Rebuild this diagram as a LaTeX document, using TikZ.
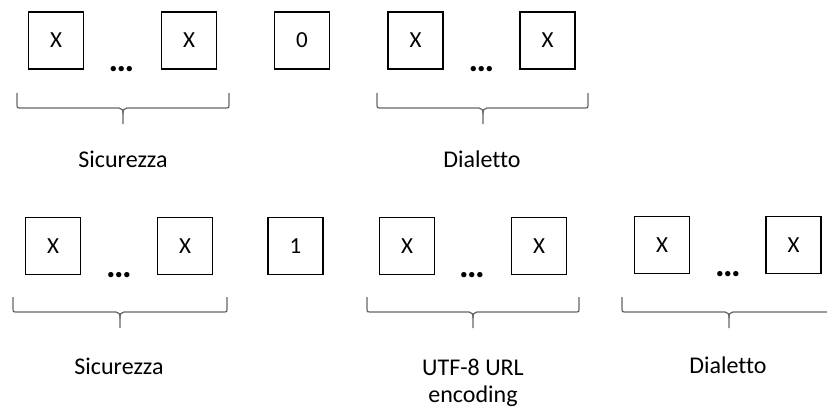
\documentclass[tikz,border=0pt]{standalone}
\usepackage{fontspec}
\setmainfont[Ligatures=CommonOff]{Carlito}
\newcommand\drawcurly[4]{% x1, x2, xc, ytop
  \pgfmathsetmacro\ym{#4+15}\pgfmathsetmacro\yt{#4+31}%
  \draw[bracestyle] (#1,#4) -- (#1,\ym-3) .. controls (#1,\ym) .. (#1+3,\ym) -- (#3-4,\ym)
     .. controls (#3-1,\ym) and (#3,\ym+2) .. (#3,\ym+6) -- (#3,\yt);
  \draw[bracestyle] (#2,#4) -- (#2,\ym-3) .. controls (#2,\ym) .. (#2-3,\ym) -- (#3+4,\ym)
     .. controls (#3+1,\ym) and (#3,\ym+2) .. (#3,\ym+6);
}
\begin{document}
\begin{tikzpicture}[x=1pt,y=-1pt,
  cell/.style={draw=black,line width=1.6pt,minimum width=55pt,minimum height=57pt,inner sep=0pt,
    font=\fontsize{23}{27}\selectfont},
  dots/.style={inner sep=0pt,anchor=base,font=\bfseries\fontsize{36}{40}\selectfont},
  lab/.style={inner sep=0pt,anchor=base,align=center,font=\fontsize{24}{27}\selectfont},
  bracestyle/.style={draw=black!60,line width=1.2pt}]
\useasboundingbox (0,0) rectangle (827,408);
\clip (0,0) rectangle (827,408);
% top row
\node[cell] (t1) at (56,40.5) {X};
\node[cell] (t2) at (189,40.5) {X};
\node[cell] (t0) at (302,40.5) {0};
\node[cell] (t3) at (415.5,40.5) {X};
\node[cell] (t4) at (547.5,40.5) {X};
\node[dots] (td1) at (121.5,71) {…};
\node[dots] (td2) at (481.5,71) {…};
\drawcurly{17}{229}{123}{93}
\drawcurly{377}{588}{483}{93}
\node[lab] (l1) at (123,167) {Sicurezza};
\node[lab] (l2) at (482,167) {Dialetto};
% bottom row
\node[cell] (b1) at (53,246) {X};
\node[cell] (b2) at (185,246) {X};
\node[cell] (b0) at (295.5,246) {1};
\node[cell] (b3) at (407,246) {X};
\node[cell] (b4) at (539,246) {X};
\node[cell] (b5) at (662,245) {X};
\node[cell] (b6) at (793.5,245) {X};
\node[dots] (bd1) at (119,277) {…};
\node[dots] (bd2) at (472,277) {…};
\node[dots] (bd3) at (728,276) {…};
\drawcurly{13}{227}{120}{297}
\drawcurly{367}{579}{473}{297}
\drawcurly{622}{860}{729}{297}
\node[lab] (l3) at (119,374) {Sicurezza};
\node[lab] (l4) at (473,402) {UTF-8 URL\\encoding};
\node[lab] (l5) at (728,373) {Dialetto};
\end{tikzpicture}
\end{document}
